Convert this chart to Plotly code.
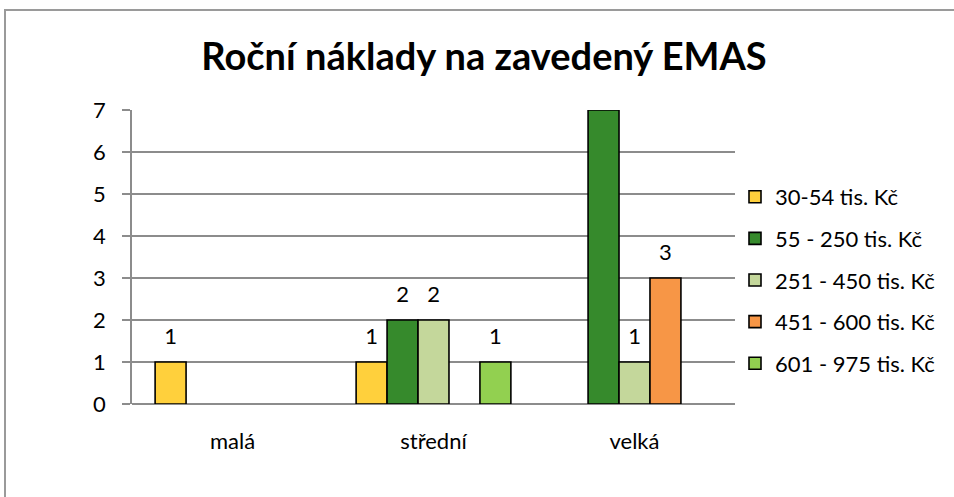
import plotly.graph_objects as go

categories = ["malá", "střední", "velká"]
series_names = ["30-54 tis. Kč", "55 - 250 tis. Kč", "251 - 450 tis. Kč", "451 - 600 tis. Kč", "601 - 975 tis. Kč"]
s1 = [1, 1, None]
s2 = [None, 2, 7]
s3 = [None, 2, 1]
s4 = [None, None, 3]
s5 = [None, 1, None]
series_values = [s1, s2, s3, s4, s5]
colors = ["#FFD03C", "#368A2C", "#C4D79B", "#F79646", "#92D050"]
y_ticks = [0, 1, 2, 3, 4, 5, 6, 7]

FONT = "Lato"
FS = 22
W, H = 954, 497
L, R, T, B = 132, 219, 110, 93
pw, ph = W - L - R, H - T - B

fig = go.Figure()
for k, (name, vals, col) in enumerate(zip(series_names, series_values, colors)):
    fig.add_trace(go.Bar(
        x=categories, y=vals, name=name, offsetgroup=str(k), legendgroup=str(k),
        marker=dict(color=col, line=dict(color="black", width=1.6)),
        hoverinfo="skip",
    ))
# invisible label carriers placed just above each bar
for k, vals in enumerate(series_values):
    fig.add_trace(go.Bar(
        x=categories,
        y=[0.25 if v is not None else None for v in vals],
        base=[v if v is not None else 0 for v in vals],
        text=[str(v) if v is not None else "" for v in vals],
        textposition="outside", cliponaxis=False,
        textfont=dict(family=FONT, size=FS, color="black"),
        offsetgroup=str(k), showlegend=False,
        marker=dict(color="rgba(0,0,0,0)", line=dict(width=0)),
        hoverinfo="skip",
    ))

fig.update_layout(
    width=W, height=H,
    margin=dict(l=L, r=R, t=T, b=B, autoexpand=False),
    paper_bgcolor="white", plot_bgcolor="white",
    barmode="group", bargap=0.23, bargroupgap=0,
    font=dict(family=FONT, size=FS, color="black"),
    title=dict(text="<b>Roční náklady na zavedený EMAS</b>", x=484 / W, xanchor="center",
               y=1 - 57 / H, yanchor="middle", font=dict(family=FONT, size=38, color="black")),
    legend=dict(x=(735 - L) / pw, y=(H - B - 280) / ph, xanchor="left", yanchor="middle",
                tracegroupgap=10, font=dict(family=FONT, size=FS, color="black"),
                bgcolor="rgba(0,0,0,0)", itemclick=False),
    xaxis=dict(showgrid=False, ticks="", showline=False, ticklabelstandoff=22,
               tickfont=dict(family=FONT, size=FS)),
    yaxis=dict(range=[0, 7], tickvals=y_ticks, showgrid=True, gridcolor="#8C8C8C", gridwidth=1.5,
               zeroline=True, zerolinecolor="#8C8C8C", zerolinewidth=1.5,
               showline=True, linecolor="#8C8C8C", linewidth=1.5,
               ticks="outside", ticklen=8, tickcolor="#8C8C8C", tickwidth=1.5,
               ticklabelstandoff=12, tickfont=dict(family=FONT, size=FS)),
    shapes=[dict(type="rect", xref="paper", yref="paper",
                 x0=(5 - L) / pw, x1=(W + 20 - L) / pw,
                 y0=-(B + 20) / ph, y1=(H - B - 10) / ph,
                 line=dict(color="#9A9A9A", width=2), fillcolor="rgba(0,0,0,0)", layer="below")],
)

fig.write_html("out.html", config={"displayModeBar": False},
               post_script="document.body.style.margin='0';document.body.style.overflow='hidden';")
